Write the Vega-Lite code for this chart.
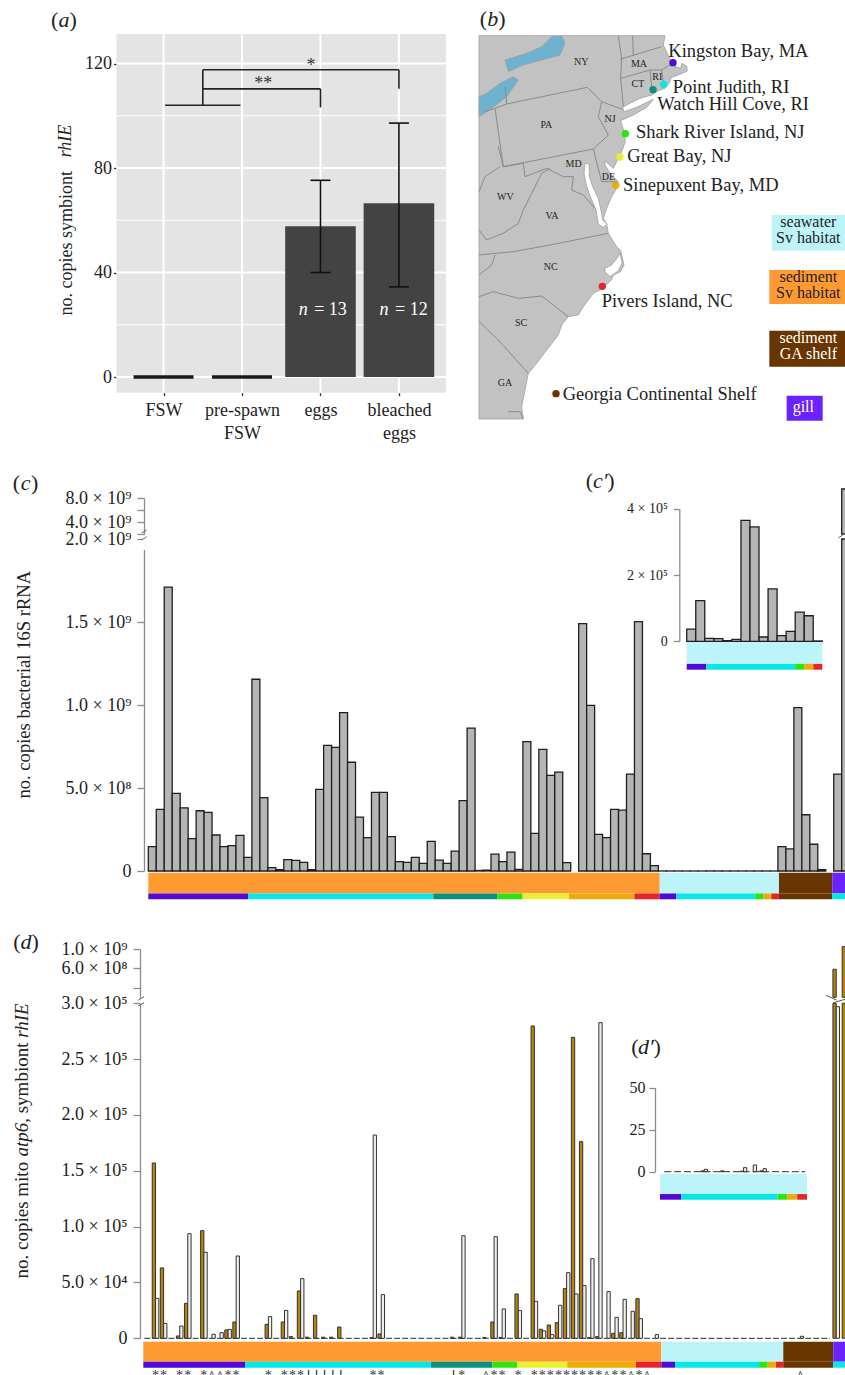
{"$schema":"https://vega.github.io/schema/vega-lite/v6.json","width":845,"height":1375,"autosize":"none","padding":0,"background":"white",
"config":{"font":"Liberation Serif","view":{"stroke":null},"text":{"font":"Liberation Serif"},"axis":{"grid":false,"labelFont":"Liberation Serif","titleFont":"Liberation Serif","titleFontWeight":"normal","labelOverlap":false,"labelBound":false,"labelFlush":false,"labelColor":"#222222","titleColor":"#222222","domainColor":"#8c8c8c","tickColor":"#8c8c8c","domainWidth":1.3,"tickWidth":1.3,"labelFontSize":18,"titleFontSize":18}},
"datasets":{
"aBars":[{"x":1,"y":0},{"x":2,"y":0},{"x":3,"y":57.7},{"x":4,"y":66.5}],
"aErr":[{"x":3,"y":40,"y2":75.3},{"x":4,"y":34.5,"y2":97.2}],
"aCap":[{"x":3,"y":40},{"x":3,"y":75.3},{"x":4,"y":34.5},{"x":4,"y":97.2}],
"aBg":[{"x":0.4,"x2":4.6,"y":-6,"y2":131.3}],
"aGrid":[{"x":0.4,"x2":4.6,"y":0,"y2":0,"w":"major"},{"x":0.4,"x2":4.6,"y":40,"y2":40,"w":"major"},{"x":0.4,"x2":4.6,"y":80,"y2":80,"w":"major"},{"x":0.4,"x2":4.6,"y":120,"y2":120,"w":"major"},{"x":0.4,"x2":4.6,"y":20,"y2":20,"w":"minor"},{"x":0.4,"x2":4.6,"y":60,"y2":60,"w":"minor"},{"x":0.4,"x2":4.6,"y":100,"y2":100,"w":"minor"},{"x":1,"x2":1,"y":-6,"y2":131.3,"w":"major"},{"x":2,"x2":2,"y":-6,"y2":131.3,"w":"major"},{"x":3,"x2":3,"y":-6,"y2":131.3,"w":"major"},{"x":4,"x2":4,"y":-6,"y2":131.3,"w":"major"}],
"aBr":[{"x":1.02,"x2":1.98,"y":104,"y2":104},{"x":1.5,"x2":1.5,"y":104,"y2":117.6},{"x":1.5,"x2":3,"y":110.3,"y2":110.3},{"x":3,"x2":3,"y":110.3,"y2":103.2},{"x":1.5,"x2":4,"y":117.6,"y2":117.6},{"x":4,"x2":4,"y":117.6,"y2":110.3}],
"aStars":[{"x":2.27,"y":112,"label":"**"},{"x":2.88,"y":119,"label":"*"}],
"aNr":[{"x":2.92,"y":25.5,"label":"= 13"},{"x":3.95,"y":25.5,"label":"= 12"}],
"aNi":[{"x":2.78,"y":25.5,"label":"n"},{"x":3.81,"y":25.5,"label":"n"}],
"aPr":[{"x":-0.387,"y":136.7,"label":"("},{"x":-0.153,"y":136.7,"label":")"}],
"aPi":[{"x":-0.27,"y":136.7,"label":"a"}],
"aTi":[{"x":-0.242,"y":84.1,"label":"rhIE"}],
"poly":[
{"p":"land","s":"land","x":27,"y":107},{"p":"land","s":"land","x":585,"y":107},{"p":"land","s":"land","x":580,"y":135},{"p":"land","s":"land","x":592,"y":160},{"p":"land","s":"land","x":600,"y":178},{"p":"land","s":"land","x":612,"y":198},{"p":"land","s":"land","x":632,"y":205},{"p":"land","s":"land","x":635,"y":190},{"p":"land","s":"land","x":650,"y":198},{"p":"land","s":"land","x":652,"y":213},{"p":"land","s":"land","x":625,"y":225},{"p":"land","s":"land","x":605,"y":232},{"p":"land","s":"land","x":597,"y":250},{"p":"land","s":"land","x":585,"y":265},{"p":"land","s":"land","x":565,"y":272},{"p":"land","s":"land","x":545,"y":285},{"p":"land","s":"land","x":510,"y":295},{"p":"land","s":"land","x":480,"y":310},{"p":"land","s":"land","x":458,"y":322},{"p":"land","s":"land","x":462,"y":335},{"p":"land","s":"land","x":500,"y":322},{"p":"land","s":"land","x":550,"y":298},{"p":"land","s":"land","x":530,"y":322},{"p":"land","s":"land","x":490,"y":345},{"p":"land","s":"land","x":452,"y":362},{"p":"land","s":"land","x":462,"y":395},{"p":"land","s":"land","x":466,"y":425},{"p":"land","s":"land","x":455,"y":455},{"p":"land","s":"land","x":440,"y":485},{"p":"land","s":"land","x":430,"y":505},{"p":"land","s":"land","x":418,"y":495},{"p":"land","s":"land","x":405,"y":482},{"p":"land","s":"land","x":405,"y":495},{"p":"land","s":"land","x":420,"y":520},{"p":"land","s":"land","x":445,"y":545},{"p":"land","s":"land","x":440,"y":565},{"p":"land","s":"land","x":425,"y":590},{"p":"land","s":"land","x":410,"y":625},{"p":"land","s":"land","x":400,"y":655},{"p":"land","s":"land","x":410,"y":672},{"p":"land","s":"land","x":415,"y":700},{"p":"land","s":"land","x":440,"y":740},{"p":"land","s":"land","x":452,"y":752},{"p":"land","s":"land","x":462,"y":795},{"p":"land","s":"land","x":452,"y":815},{"p":"land","s":"land","x":430,"y":825},{"p":"land","s":"land","x":425,"y":838},{"p":"land","s":"land","x":400,"y":865},{"p":"land","s":"land","x":370,"y":880},{"p":"land","s":"land","x":340,"y":920},{"p":"land","s":"land","x":325,"y":945},{"p":"land","s":"land","x":295,"y":950},{"p":"land","s":"land","x":275,"y":975},{"p":"land","s":"land","x":265,"y":1005},{"p":"land","s":"land","x":230,"y":1050},{"p":"land","s":"land","x":200,"y":1090},{"p":"land","s":"land","x":175,"y":1120},{"p":"land","s":"land","x":165,"y":1170},{"p":"land","s":"land","x":155,"y":1220},{"p":"land","s":"land","x":160,"y":1257},{"p":"land","s":"land","x":27,"y":1257},{"p":"land","s":"land","x":27,"y":107},
{"p":"ontario","s":"water","x":105,"y":180},{"p":"ontario","s":"water","x":115,"y":215},{"p":"ontario","s":"water","x":160,"y":195},{"p":"ontario","s":"water","x":215,"y":180},{"p":"ontario","s":"water","x":270,"y":165},{"p":"ontario","s":"water","x":285,"y":130},{"p":"ontario","s":"water","x":275,"y":108},{"p":"ontario","s":"water","x":245,"y":110},{"p":"ontario","s":"water","x":215,"y":140},{"p":"ontario","s":"water","x":170,"y":160},{"p":"ontario","s":"water","x":105,"y":180},
{"p":"erie","s":"water","x":27,"y":290},{"p":"erie","s":"water","x":27,"y":350},{"p":"erie","s":"water","x":65,"y":325},{"p":"erie","s":"water","x":110,"y":290},{"p":"erie","s":"water","x":145,"y":240},{"p":"erie","s":"water","x":130,"y":230},{"p":"erie","s":"water","x":90,"y":250},{"p":"erie","s":"water","x":50,"y":280},{"p":"erie","s":"water","x":27,"y":290},
{"p":"chesapeake","s":"bay","x":345,"y":490},{"p":"chesapeake","s":"bay","x":358,"y":492},{"p":"chesapeake","s":"bay","x":358,"y":530},{"p":"chesapeake","s":"bay","x":368,"y":560},{"p":"chesapeake","s":"bay","x":385,"y":595},{"p":"chesapeake","s":"bay","x":395,"y":640},{"p":"chesapeake","s":"bay","x":398,"y":660},{"p":"chesapeake","s":"bay","x":412,"y":672},{"p":"chesapeake","s":"bay","x":400,"y":682},{"p":"chesapeake","s":"bay","x":385,"y":672},{"p":"chesapeake","s":"bay","x":378,"y":630},{"p":"chesapeake","s":"bay","x":365,"y":600},{"p":"chesapeake","s":"bay","x":350,"y":560},{"p":"chesapeake","s":"bay","x":342,"y":520},{"p":"chesapeake","s":"bay","x":345,"y":490},
{"p":"pamlico","s":"bay","x":405,"y":805},{"p":"pamlico","s":"bay","x":425,"y":795},{"p":"pamlico","s":"bay","x":445,"y":770},{"p":"pamlico","s":"bay","x":450,"y":757},{"p":"pamlico","s":"bay","x":456,"y":790},{"p":"pamlico","s":"bay","x":445,"y":812},{"p":"pamlico","s":"bay","x":420,"y":830},{"p":"pamlico","s":"bay","x":405,"y":815},{"p":"pamlico","s":"bay","x":405,"y":805}],
"lines":[
{"s":"a","x":110,"y":312},{"s":"a","x":352,"y":262},{"s":"a","x":385,"y":295},{"s":"a","x":395,"y":305},{"s":"a","x":458,"y":328},
{"s":"b","x":75,"y":325},{"s":"b","x":110,"y":312},{"s":"b","x":105,"y":260},
{"s":"c","x":75,"y":325},{"s":"c","x":100,"y":500},{"s":"c","x":370,"y":447},{"s":"c","x":415,"y":405},{"s":"c","x":385,"y":350},{"s":"c","x":395,"y":305},
{"s":"d","x":445,"y":107},{"s":"d","x":455,"y":175},{"s":"d","x":452,"y":235},{"s":"d","x":460,"y":320},
{"s":"e","x":452,"y":235},{"s":"e","x":540,"y":210},{"s":"e","x":575,"y":210},{"s":"e","x":600,"y":195},
{"s":"f","x":450,"y":178},{"s":"f","x":575,"y":140},
{"s":"g","x":488,"y":107},{"s":"g","x":490,"y":165},
{"s":"h","x":540,"y":212},{"s":"h","x":545,"y":260},
{"s":"i","x":575,"y":210},{"s":"i","x":580,"y":250},
{"s":"j","x":45,"y":335},{"s":"j","x":75,"y":325},
{"s":"l","x":100,"y":500},{"s":"l","x":85,"y":440},
{"s":"m","x":100,"y":500},{"s":"m","x":160,"y":490},{"s":"m","x":165,"y":530},{"s":"m","x":230,"y":505},{"s":"m","x":280,"y":530},{"s":"m","x":310,"y":530},{"s":"m","x":305,"y":570},{"s":"m","x":340,"y":585},{"s":"m","x":375,"y":625},
{"s":"n","x":27,"y":575},{"s":"n","x":45,"y":530},{"s":"n","x":90,"y":500},
{"s":"o","x":27,"y":690},{"s":"o","x":50,"y":720},{"s":"o","x":100,"y":700},{"s":"o","x":145,"y":670},{"s":"o","x":160,"y":630},{"s":"o","x":180,"y":590},{"s":"o","x":215,"y":520},{"s":"o","x":240,"y":505},
{"s":"p","x":370,"y":447},{"s":"p","x":395,"y":545},{"s":"p","x":440,"y":545},
{"s":"q","x":27,"y":765},{"s":"q","x":130,"y":755},{"s":"q","x":240,"y":735},{"s":"q","x":415,"y":700},
{"s":"r","x":27,"y":825},{"s":"r","x":65,"y":795},{"s":"r","x":75,"y":765},
{"s":"t","x":27,"y":890},{"s":"t","x":70,"y":875},{"s":"t","x":145,"y":895},{"s":"t","x":215,"y":888},{"s":"t","x":295,"y":950},
{"s":"u","x":27,"y":965},{"s":"u","x":80,"y":1015},{"s":"u","x":130,"y":1070},{"s":"u","x":175,"y":1120},
{"s":"v","x":115,"y":1235},{"s":"v","x":150,"y":1235},{"s":"v","x":160,"y":1257}],
"states":[{"x":334,"y":185,"label":"NY"},{"x":507,"y":193,"label":"MA"},{"x":562,"y":231,"label":"RI"},{"x":504,"y":253,"label":"CT"},{"x":229,"y":376,"label":"PA"},{"x":420,"y":358,"label":"NJ"},{"x":311,"y":493,"label":"MD"},{"x":415,"y":530,"label":"DE"},{"x":106,"y":592,"label":"WV"},{"x":246,"y":647,"label":"VA"},{"x":242,"y":802,"label":"NC"},{"x":153,"y":968,"label":"SC"},{"x":105,"y":1150,"label":"GA"}],
"sites":[{"x":609,"y":188,"group":"Kingston Bay, MA","tx":595,"ty":152},{"x":581,"y":253,"group":"Point Judith, RI","tx":608,"ty":262},{"x":549,"y":269,"group":"Watch Hill Cove, RI","tx":562,"ty":312},{"x":466,"y":401,"group":"Shark River Island, NJ","tx":498,"ty":397},{"x":450,"y":471,"group":"Great Bay, NJ","tx":472,"ty":468},{"x":437,"y":556,"group":"Sinepuxent Bay, MD","tx":459,"ty":555},{"x":397,"y":859,"group":"Pivers Island, NC","tx":395,"ty":902},{"x":258,"y":1181,"group":"Georgia Continental Shelf","tx":278,"ty":1181}],
"legBox":[{"x":905,"x2":1125,"y":645,"y2":752,"group":"seawater Sv habitat"},{"x":898,"x2":1125,"y":810,"y2":912,"group":"sediment Sv habitat"},{"x":898,"x2":1125,"y":992,"y2":1100,"group":"sediment GA shelf"},{"x":950,"x2":1058,"y":1187,"y2":1262,"group":"gill"}],
"legDark":[{"x":1015,"y":666,"label":"seawater"},{"x":1015,"y":713,"label":"Sv habitat"},{"x":1015,"y":832,"label":"sediment"},{"x":1015,"y":878,"label":"Sv habitat"}],
"legLight":[{"x":1015,"y":1015,"label":"sediment"},{"x":1015,"y":1062,"label":"GA shelf"},{"x":1000,"y":1222,"label":"gill"}],
"bPr":[{"x":40,"y":58,"label":"("},{"x":96,"y":58,"label":")"}],
"bPi":[{"x":68,"y":58,"label":"b"}],
"cBars":[{"i":0,"v":147000000},{"i":1,"v":371000000},{"i":2,"v":1710000000},{"i":3,"v":468000000},{"i":4,"v":380000000},{"i":5,"v":195000000},{"i":6,"v":363000000},{"i":7,"v":353000000},{"i":8,"v":217000000},{"i":9,"v":147000000},{"i":10,"v":153000000},{"i":11,"v":215000000},{"i":12,"v":82000000},{"i":13,"v":1155000000},{"i":14,"v":442000000},{"i":15,"v":20000000},{"i":16,"v":8000000},{"i":17,"v":68000000},{"i":18,"v":64000000},{"i":19,"v":52000000},{"i":20,"v":8000000},{"i":21,"v":492000000},{"i":22,"v":757000000},{"i":23,"v":745000000},{"i":24,"v":954000000},{"i":25,"v":655000000},{"i":26,"v":325000000},{"i":27,"v":201000000},{"i":28,"v":474000000},{"i":29,"v":474000000},{"i":30,"v":207000000},{"i":31,"v":56000000},{"i":32,"v":52000000},{"i":33,"v":82000000},{"i":34,"v":46000000},{"i":35,"v":179000000},{"i":36,"v":66000000},{"i":37,"v":46000000},{"i":38,"v":120000000},{"i":39,"v":424000000},{"i":40,"v":861000000},{"i":41,"v":3000000},{"i":42,"v":5000000},{"i":43,"v":102000000},{"i":44,"v":56000000},{"i":45,"v":114000000},{"i":46,"v":10000000},{"i":47,"v":779000000},{"i":48,"v":227000000},{"i":49,"v":733000000},{"i":50,"v":576000000},{"i":51,"v":596000000},{"i":52,"v":50000000},{"i":54,"v":1490000000},{"i":55,"v":998000000},{"i":56,"v":221000000},{"i":57,"v":201000000},{"i":58,"v":371000000},{"i":59,"v":367000000},{"i":60,"v":584000000},{"i":61,"v":1502000000},{"i":62,"v":104000000},{"i":63,"v":32000000},{"i":64,"v":37000},{"i":65,"v":123000},{"i":66,"v":9000},{"i":67,"v":8000},{"i":68,"v":2000},{"i":69,"v":6000},{"i":70,"v":365000},{"i":71,"v":345000},{"i":72,"v":13000},{"i":73,"v":158000},{"i":74,"v":17000},{"i":75,"v":30000},{"i":76,"v":88000},{"i":77,"v":77000},{"i":78,"v":1000},{"i":79,"v":147000000},{"i":80,"v":133000000},{"i":81,"v":984000000},{"i":82,"v":339000000},{"i":83,"v":161000000},{"i":84,"v":8000000},{"i":86,"v":584000000},{"i":87,"v":9500000000}],
"cMask":[{"i":-1.04,"v":-670000000,"v2":1170000000}],
"cSlash":[{"i":-1.33,"i2":-0.7,"v":2170000000,"v2":2670000000},{"i":-1.33,"i2":-0.7,"v":1000000000,"v2":1550000000},{"i":86.07,"i2":87,"v":1330000000,"v2":2170000000}],
"cPr":[{"i":-17.05,"v":10450000000,"label":"("},{"i":-14.75,"v":10450000000,"label":")"},{"i":54.86,"v":10900000000,"label":"("},{"i":57.54,"v":10900000000,"label":")"}],
"cPi":[{"i":-15.9,"v":10450000000,"label":"c"},{"i":56.2,"v":10900000000,"label":"c\u2032"}],
"cStrip":[{"from":-0.5,"to":63.67,"group":"sediment Sv habitat","track":"habitat"},{"from":63.67,"to":78.63,"group":"seawater Sv habitat","track":"habitat"},{"from":78.63,"to":85.32,"group":"sediment GA shelf","track":"habitat"},{"from":85.32,"to":88,"group":"gill","track":"habitat"},{"from":-0.5,"to":12.05,"group":"Kingston Bay, MA","track":"site"},{"from":12.05,"to":35.26,"group":"Point Judith, RI","track":"site"},{"from":35.26,"to":43.29,"group":"Watch Hill Cove, RI","track":"site"},{"from":43.29,"to":46.47,"group":"Shark River Island, NJ","track":"site"},{"from":46.47,"to":52.29,"group":"Great Bay, NJ","track":"site"},{"from":52.29,"to":60.48,"group":"Sinepuxent Bay, MD","track":"site"},{"from":60.48,"to":63.67,"group":"Pivers Island, NC","track":"site"},{"from":63.67,"to":65.75,"group":"Kingston Bay, MA","track":"site"},{"from":65.75,"to":75.66,"group":"Point Judith, RI","track":"site"},{"from":75.66,"to":76.7,"group":"Shark River Island, NJ","track":"site"},{"from":76.7,"to":77.67,"group":"Sinepuxent Bay, MD","track":"site"},{"from":77.67,"to":78.63,"group":"Pivers Island, NC","track":"site"},{"from":78.63,"to":85.32,"group":"Georgia Continental Shelf","track":"site"},{"from":85.32,"to":88,"group":"Point Judith, RI","track":"site"}],
"cInset":[{"i":0,"v":37000},{"i":1,"v":123000},{"i":2,"v":9000},{"i":3,"v":8000},{"i":4,"v":2000},{"i":5,"v":6000},{"i":6,"v":365000},{"i":7,"v":345000},{"i":8,"v":13000},{"i":9,"v":158000},{"i":10,"v":17000},{"i":11,"v":30000},{"i":12,"v":88000},{"i":13,"v":77000},{"i":14,"v":1000}],
"insetStrip":[{"from":-0.5,"to":14.5,"group":"seawater Sv habitat","track":"habitat"},{"from":-0.5,"to":1.67,"group":"Kingston Bay, MA","track":"site"},{"from":1.67,"to":11.5,"group":"Point Judith, RI","track":"site"},{"from":11.5,"to":12.5,"group":"Shark River Island, NJ","track":"site"},{"from":12.5,"to":13.5,"group":"Sinepuxent Bay, MD","track":"site"},{"from":13.5,"to":14.5,"group":"Pivers Island, NC","track":"site"}],
"dMito":[{"i":1,"v":157000},{"i":2,"v":63000},{"i":4,"v":2100},{"i":5,"v":31300},{"i":7,"v":96400},{"i":10,"v":7500},{"i":11,"v":14600},{"i":15,"v":12500},{"i":17,"v":14600},{"i":18,"v":1500},{"i":19,"v":42400},{"i":20,"v":1000},{"i":21,"v":20600},{"i":22,"v":1000},{"i":23,"v":1000},{"i":24,"v":10100},{"i":28,"v":600},{"i":29,"v":3900},{"i":38,"v":1000},{"i":39,"v":1000},{"i":42,"v":600},{"i":43,"v":14600},{"i":44,"v":600},{"i":46,"v":39700},{"i":48,"v":279700},{"i":49,"v":8100},{"i":50,"v":11900},{"i":51,"v":14000},{"i":52,"v":44500},{"i":53,"v":269500},{"i":54,"v":176100},{"i":55,"v":600},{"i":56,"v":1500},{"i":58,"v":4500},{"i":59,"v":5000},{"i":61,"v":35500},{"i":85.45,"v":580000000},{"i":86.6,"v":1048000000}],
"dSym":[{"i":1,"v":35800},{"i":2,"v":13400},{"i":4,"v":11000},{"i":5,"v":93700},{"i":7,"v":77000},{"i":8,"v":3600},{"i":9,"v":5000},{"i":10,"v":8000},{"i":11,"v":73700},{"i":15,"v":19400},{"i":17,"v":25000},{"i":19,"v":53400},{"i":28,"v":182000},{"i":29,"v":39100},{"i":39,"v":91900},{"i":43,"v":91000},{"i":44,"v":26300},{"i":46,"v":24800},{"i":48,"v":33100},{"i":49,"v":6600},{"i":50,"v":3300},{"i":51,"v":29600},{"i":52,"v":58800},{"i":53,"v":39700},{"i":54,"v":47200},{"i":55,"v":71300},{"i":56,"v":282700},{"i":57,"v":41800},{"i":58,"v":18800},{"i":59,"v":34900},{"i":60,"v":24200},{"i":61,"v":17600},{"i":63,"v":3300},{"i":81,"v":1800},{"i":85.45,"v":297000}],
"dBase":[{"i":-0.38,"i2":84.7,"v":0}],
"dTr":[{"i":-15.59,"v":193000,"label":", symbiont"}],
"dTi":[{"i":-15.59,"v":162700,"label":"atp6"},{"i":-15.59,"v":269100,"label":"rhIE"}],
"dSlash":[{"i":-1.12,"i2":-0.41,"v":-56000000,"v2":12000000},{"i":-1.12,"i2":-0.41,"v":-180000000,"v2":-112000000},{"i":84.2,"i2":85.5,"v":41000000,"v2":-56000000},{"i":85.1,"i2":86.56,"v":-112000000,"v2":-41000000}],
"dPr":[{"i":-16.19,"v":1150000000,"label":"("},{"i":-13.91,"v":1150000000,"label":")"}],
"dPi":[{"i":-15.05,"v":1150000000,"label":"d"}],
"dStrip":[{"from":-0.5,"to":63.77,"group":"sediment Sv habitat","track":"habitat"},{"from":63.77,"to":78.9,"group":"seawater Sv habitat","track":"habitat"},{"from":78.9,"to":85.1,"group":"sediment GA shelf","track":"habitat"},{"from":85.1,"to":88,"group":"gill","track":"habitat"},{"from":-0.5,"to":12.12,"group":"Kingston Bay, MA","track":"site"},{"from":12.12,"to":35.2,"group":"Point Judith, RI","track":"site"},{"from":35.2,"to":42.8,"group":"Watch Hill Cove, RI","track":"site"},{"from":42.8,"to":45.9,"group":"Shark River Island, NJ","track":"site"},{"from":45.9,"to":52.1,"group":"Great Bay, NJ","track":"site"},{"from":52.1,"to":60.6,"group":"Sinepuxent Bay, MD","track":"site"},{"from":60.6,"to":63.77,"group":"Pivers Island, NC","track":"site"},{"from":63.77,"to":65.47,"group":"Kingston Bay, MA","track":"site"},{"from":65.47,"to":75.9,"group":"Point Judith, RI","track":"site"},{"from":75.9,"to":76.97,"group":"Shark River Island, NJ","track":"site"},{"from":76.97,"to":78,"group":"Sinepuxent Bay, MD","track":"site"},{"from":78,"to":78.9,"group":"Pivers Island, NC","track":"site"},{"from":78.9,"to":85.1,"group":"Georgia Continental Shelf","track":"site"},{"from":85.1,"to":88,"group":"Point Judith, RI","track":"site"}],
"sig":[{"i":1,"s":"*"},{"i":2,"s":"*"},{"i":4,"s":"*"},{"i":5,"s":"*"},{"i":7,"s":"*"},{"i":8,"s":"^"},{"i":9,"s":"^"},{"i":10,"s":"*"},{"i":11,"s":"*"},{"i":15,"s":"*"},{"i":17,"s":"*"},{"i":18,"s":"*"},{"i":19,"s":"*"},{"i":20,"s":"|"},{"i":21,"s":"|"},{"i":22,"s":"|"},{"i":23,"s":"|"},{"i":24,"s":"|"},{"i":28,"s":"*"},{"i":29,"s":"*"},{"i":38,"s":"|"},{"i":39,"s":"*"},{"i":42,"s":"^"},{"i":43,"s":"*"},{"i":44,"s":"*"},{"i":46,"s":"*"},{"i":48,"s":"*"},{"i":49,"s":"*"},{"i":50,"s":"*"},{"i":51,"s":"*"},{"i":52,"s":"*"},{"i":53,"s":"*"},{"i":54,"s":"*"},{"i":55,"s":"*"},{"i":56,"s":"*"},{"i":57,"s":"^"},{"i":58,"s":"*"},{"i":59,"s":"*"},{"i":60,"s":"^"},{"i":61,"s":"*"},{"i":62,"s":"^"},{"i":81,"s":"^"}],
"dInsetM":[{"i":4,"v":0.5},{"i":6,"v":0.5},{"i":8,"v":0.3},{"i":10,"v":0.5}],
"dInsetS":[{"i":4,"v":1.4},{"i":8,"v":2.4},{"i":9,"v":4},{"i":10,"v":1.8}],
"dInsetBase":[{"i":-0.06,"i2":14.3,"v":0}],
"dPPr":[{"i":-3.07,"v":74,"label":"("},{"i":-0.79,"v":74,"label":")"}],
"dPPi":[{"i":-1.93,"v":74,"label":"d\u2032"}]
},
"layer":[
{"encoding":{"x":{"field":"x","type":"quantitative","scale":{"domain":[0.4,4.6],"range":[116.5,446],"nice":false,"zero":false,"padding":0},"axis":{"orient":"bottom","offset":-982.3,"values":[1,2,3,4],"title":null,"domain":false,"tickSize":3,"tickColor":"#333333","labelPadding":6,"labelLineHeight":23,"labelExpr":"datum.value==1?'FSW':datum.value==2?['pre-spawn','FSW']:datum.value==3?'eggs':['bleached','eggs']"}},"y":{"field":"y","type":"quantitative","scale":{"domain":[-6,131.3],"range":[392.7,34],"nice":false,"zero":false,"padding":0},"axis":{"orient":"left","offset":-116.5,"values":[0,40,80,120],"domain":false,"tickSize":3,"tickColor":"#333333","labelPadding":2,"title":"no. copies symbiont","titleAngle":270,"titleAlign":"left","titleBaseline":"middle","titleX":-50.5,"titleY":315}}},
"layer":[
{"data":{"name":"aBg"},"mark":{"type":"rect","fill":"#e4e4e4"},"encoding":{"x2":{"field":"x2"},"y2":{"field":"y2"}}},
{"data":{"name":"aGrid"},"mark":{"type":"rule","stroke":"white"},"encoding":{"x2":{"field":"x2"},"y2":{"field":"y2"},"strokeWidth":{"field":"w","type":"nominal","scale":{"domain":["major","minor"],"range":[2,1]},"legend":null}}},
{"data":{"name":"aBars"},"transform":[{"filter":"datum.y>0"}],"mark":{"type":"bar","orient":"vertical","width":70.6,"fill":"#434343"},"encoding":{"y2":{"datum":0}}},
{"data":{"name":"aBars"},"transform":[{"filter":"datum.y==0"}],"mark":{"type":"tick","orient":"horizontal","size":60,"thickness":3.5,"color":"#1a1a1a","opacity":1}},
{"data":{"name":"aErr"},"mark":{"type":"rule","stroke":"#111111","strokeWidth":1.6},"encoding":{"y2":{"field":"y2"}}},
{"data":{"name":"aCap"},"mark":{"type":"tick","orient":"horizontal","size":20,"thickness":1.6,"color":"#111111","opacity":1}},
{"data":{"name":"aBr"},"mark":{"type":"rule","stroke":"#222222","strokeWidth":1.6},"encoding":{"x2":{"field":"x2"},"y2":{"field":"y2"}}},
{"data":{"name":"aStars"},"mark":{"type":"text","fontSize":18,"color":"#333333"},"encoding":{"text":{"field":"label"}}},
{"data":{"name":"aNr"},"mark":{"type":"text","fontSize":18,"color":"white","align":"left"},"encoding":{"text":{"field":"label"}}},
{"data":{"name":"aNi"},"mark":{"type":"text","fontSize":18,"color":"white","fontStyle":"italic"},"encoding":{"text":{"field":"label"}}},
{"data":{"name":"aPr"},"mark":{"type":"text","fontSize":22,"color":"#222222"},"encoding":{"text":{"field":"label"}}},
{"data":{"name":"aPi"},"mark":{"type":"text","fontSize":22,"color":"#222222","fontStyle":"italic"},"encoding":{"text":{"field":"label"}}},
{"data":{"name":"aTi"},"mark":{"type":"text","fontSize":18,"color":"#222222","fontStyle":"italic","angle":270,"align":"left"},"encoding":{"text":{"field":"label"}}}
]},
{"encoding":{"x":{"field":"x","type":"quantitative","scale":{"domain":[0,1125],"range":[470,845],"nice":false,"zero":false},"axis":null},"y":{"field":"y","type":"quantitative","scale":{"domain":[0,1305],"range":[0,435],"nice":false,"zero":false},"axis":null}},
"layer":[
{"data":{"name":"poly"},"mark":{"type":"line","stroke":"#a0a0a0","strokeWidth":0.8},"encoding":{"order":{"value":null},"detail":{"field":"p"},"fill":{"field":"s","type":"nominal","scale":{"domain":["land","water","bay"],"range":["#c2c2c2","#6db3cf","#ffffff"]},"legend":null}}},
{"data":{"name":"lines"},"mark":{"type":"line","stroke":"#8a8a8a","strokeWidth":1},"encoding":{"order":{"value":null},"detail":{"field":"s"}}},
{"data":{"name":"states"},"mark":{"type":"text","fontSize":10,"color":"#222222"},"encoding":{"text":{"field":"label"}}},
{"data":{"name":"sites"},"mark":{"type":"circle","size":55,"opacity":1},"encoding":{"color":{"field":"group","type":"nominal","legend":null,"scale":{"domain":["Kingston Bay, MA","Point Judith, RI","Watch Hill Cove, RI","Shark River Island, NJ","Great Bay, NJ","Sinepuxent Bay, MD","Pivers Island, NC","Georgia Continental Shelf","seawater Sv habitat","sediment Sv habitat","sediment GA shelf","gill"],"range":["#5209d8","#06e8e8","#0a8f80","#2de40e","#e8f030","#ecab06","#e5242b","#693500","#bdf4fa","#ff9a33","#693500","#6a22ff"]}}}},
{"data":{"name":"sites"},"mark":{"type":"text","fontSize":18.5,"align":"left","color":"#222222"},"encoding":{"x":{"field":"tx","type":"quantitative","axis":null},"y":{"field":"ty","type":"quantitative","axis":null},"text":{"field":"group"}}},
{"data":{"name":"legBox"},"mark":{"type":"rect"},"encoding":{"x2":{"field":"x2"},"y2":{"field":"y2"},"color":{"field":"group","type":"nominal","legend":null}}},
{"data":{"name":"legDark"},"mark":{"type":"text","fontSize":16,"color":"#222222"},"encoding":{"text":{"field":"label"}}},
{"data":{"name":"legLight"},"mark":{"type":"text","fontSize":16,"color":"#ffffff"},"encoding":{"text":{"field":"label"}}},
{"data":{"name":"bPr"},"mark":{"type":"text","fontSize":22,"color":"#222222"},"encoding":{"text":{"field":"label"}}},
{"data":{"name":"bPi"},"mark":{"type":"text","fontSize":22,"color":"#222222","fontStyle":"italic"},"encoding":{"text":{"field":"label"}}}
]},
{"data":{"name":"cBars"},"mark":{"type":"bar","orient":"vertical","width":7.97,"fill":"#b5b5b5","stroke":"#1f1f1f","strokeWidth":1.3},"encoding":{"x":{"field":"i","type":"quantitative","scale":{"domain":[-0.5,87.5],"range":[148.3,849.66],"nice":false,"zero":false,"padding":0},"axis":null},"y":{"field":"v","type":"quantitative","scale":{"domain":[0,2000000000],"range":[871,539],"nice":false,"clamp":true},"axis":{"orient":"left","offset":-144,"values":[0,500000000,1000000000,1500000000,2000000000],"tickSize":7,"labelPadding":6,"labelExpr":"datum.value==0?'0':datum.value==500000000?'5.0 × 10⁸':format(datum.value/1000000000,'.1f')+' × 10⁹'","title":"no. copies bacterial 16S rRNA","titleAngle":270,"titleAlign":"center","titleBaseline":"middle","titleX":-121,"titleY":684.2,"titleFontSize":18.6}}}},
{"encoding":{"x":{"field":"i","type":"quantitative","scale":{"domain":[-0.5,87.5],"range":[148.3,849.66],"nice":false,"zero":false,"padding":0},"axis":null},"y":{"field":"v","type":"quantitative","scale":{"domain":[2000000000,8000000000],"range":[534,498],"nice":false,"zero":false},"axis":{"orient":"left","offset":-144,"values":[2000000000,4000000000,6000000000,8000000000],"title":null,"tickSize":7,"labelPadding":6,"labelExpr":"datum.value==8000000000?'8.0 × 10⁹':datum.value==4000000000?'4.0 × 10⁹':''"}}},
"layer":[
{"data":{"name":"cBars"},"transform":[{"filter":"datum.v>2000000000"}],"mark":{"type":"bar","orient":"vertical","width":7.97,"fill":"#b5b5b5","stroke":"#1f1f1f","strokeWidth":1.3},"encoding":{"y2":{"datum":2000000000}}},
{"data":{"name":"cMask"},"mark":{"type":"rule","stroke":"white","strokeWidth":3},"encoding":{"y2":{"field":"v2"}}},
{"data":{"name":"cSlash"},"mark":{"type":"rule","stroke":"#666666","strokeWidth":1},"encoding":{"x2":{"field":"i2"},"y2":{"field":"v2"}}},
{"data":{"name":"cPr"},"mark":{"type":"text","fontSize":22,"color":"#222222"},"encoding":{"text":{"field":"label"}}},
{"data":{"name":"cPi"},"mark":{"type":"text","fontSize":22,"color":"#222222","fontStyle":"italic"},"encoding":{"text":{"field":"label"}}}
]},
{"data":{"name":"cStrip"},"encoding":{"x":{"field":"from","type":"quantitative","scale":{"domain":[-0.5,87.5],"range":[148.3,849.66],"nice":false,"zero":false},"axis":null},"x2":{"field":"to"},"y":{"datum":0,"type":"quantitative","scale":{"domain":[0,1],"range":[872.7,899.3],"nice":false},"axis":null},"color":{"field":"group","type":"nominal","legend":null,"scale":{"domain":["Kingston Bay, MA","Point Judith, RI","Watch Hill Cove, RI","Shark River Island, NJ","Great Bay, NJ","Sinepuxent Bay, MD","Pivers Island, NC","Georgia Continental Shelf","seawater Sv habitat","sediment Sv habitat","sediment GA shelf","gill"],"range":["#5209d8","#06e8e8","#0a8f80","#2de40e","#e8f030","#ecab06","#e5242b","#693500","#bdf4fa","#ff9a33","#693500","#6a22ff"]}}},
"layer":[
{"transform":[{"filter":"datum.track=='habitat'"}],"mark":"rect","encoding":{"y2":{"datum":0.78}}},
{"transform":[{"filter":"datum.track=='site'"}],"mark":"rect","encoding":{"y":{"datum":0.78,"type":"quantitative","axis":null},"y2":{"datum":1}}}
]},
{"data":{"name":"cInset"},"mark":{"type":"bar","orient":"vertical","width":9,"fill":"#b5b5b5","stroke":"#1f1f1f","strokeWidth":1.3},"encoding":{"x":{"field":"i","type":"quantitative","scale":{"domain":[-0.5,14.5],"range":[686.7,822.3],"nice":false,"zero":false,"padding":0},"axis":null},"y":{"field":"v","type":"quantitative","scale":{"domain":[0,400000],"range":[641.3,508.7],"nice":false},"axis":{"orient":"left","offset":-679.3,"values":[0,200000,400000],"title":null,"tickSize":6,"labelPadding":6,"labelFontSize":14,"labelExpr":"datum.value==0?'0':format(datum.value/100000,'d')+' × 10⁵'"}}}},
{"data":{"name":"insetStrip"},"encoding":{"x":{"field":"from","type":"quantitative","scale":{"domain":[-0.5,14.5],"range":[686.7,822.3],"nice":false,"zero":false},"axis":null},"x2":{"field":"to"},"y":{"datum":0,"type":"quantitative","scale":{"domain":[0,1],"range":[642,669.7],"nice":false},"axis":null},"color":{"field":"group","type":"nominal","legend":null,"scale":{"domain":["Kingston Bay, MA","Point Judith, RI","Watch Hill Cove, RI","Shark River Island, NJ","Great Bay, NJ","Sinepuxent Bay, MD","Pivers Island, NC","Georgia Continental Shelf","seawater Sv habitat","sediment Sv habitat","sediment GA shelf","gill"],"range":["#5209d8","#06e8e8","#0a8f80","#2de40e","#e8f030","#ecab06","#e5242b","#693500","#bdf4fa","#ff9a33","#693500","#6a22ff"]}}},
"layer":[
{"transform":[{"filter":"datum.track=='habitat'"}],"mark":"rect","encoding":{"y2":{"datum":0.79}}},
{"transform":[{"filter":"datum.track=='site'"}],"mark":"rect","encoding":{"y":{"datum":0.79,"type":"quantitative","axis":null},"y2":{"datum":1}}}
]},
{"encoding":{"x":{"field":"i","type":"quantitative","scale":{"domain":[-0.5,87.5],"range":[143.3,852.6],"nice":false,"zero":false,"padding":0},"axis":null},"y":{"field":"v","type":"quantitative","scale":{"domain":[0,300000],"range":[1338.3,1003.3],"nice":false,"clamp":true},"axis":{"orient":"left","offset":-140,"values":[0,50000,100000,150000,200000,250000,300000],"tickSize":7,"labelPadding":6,"labelExpr":"datum.value==0?'0':datum.value==50000?'5.0 × 10⁴':format(datum.value/100000,'.1f')+' × 10⁵'","title":"no. copies mito","titleAngle":270,"titleAlign":"left","titleBaseline":"middle","titleX":-118.3,"titleY":1278,"titleFontSize":19}}},
"layer":[
{"data":{"name":"dBase"},"mark":{"type":"rule","stroke":"#555555","strokeWidth":1.3,"strokeDash":[6,2.06]},"encoding":{"x2":{"field":"i2"}}},
{"data":{"name":"dMito"},"mark":{"type":"bar","orient":"vertical","width":3.3,"xOffset":-1.5,"fill":"#b5830c","stroke":"#333333","strokeWidth":1}},
{"data":{"name":"dSym"},"mark":{"type":"bar","orient":"vertical","width":3.3,"xOffset":1.8,"fill":"#eeeeee","stroke":"#333333","strokeWidth":1}},
{"data":{"name":"dTr"},"mark":{"type":"text","fontSize":19,"color":"#222222","angle":270,"align":"left"},"encoding":{"text":{"field":"label"}}},
{"data":{"name":"dTi"},"mark":{"type":"text","fontSize":19,"color":"#222222","angle":270,"align":"left","fontStyle":"italic"},"encoding":{"text":{"field":"label"}}}
]},
{"encoding":{"x":{"field":"i","type":"quantitative","scale":{"domain":[-0.5,87.5],"range":[143.3,852.6],"nice":false,"zero":false,"padding":0},"axis":null},"y":{"field":"v","type":"quantitative","scale":{"domain":[0,1000000000],"range":[997.3,949],"nice":false},"axis":{"orient":"left","offset":-140,"values":[200000000,600000000,1000000000],"title":null,"tickSize":7,"labelPadding":6,"labelExpr":"datum.value==1000000000?'1.0 × 10⁹':datum.value==600000000?'6.0 × 10⁸':''"}}},
"layer":[
{"data":{"name":"dMito"},"transform":[{"filter":"datum.v>300000"}],"mark":{"type":"bar","orient":"vertical","width":3.3,"xOffset":-1.5,"fill":"#b5830c","stroke":"#333333","strokeWidth":1},"encoding":{"y2":{"datum":0}}},
{"data":{"name":"dSlash"},"mark":{"type":"rule","stroke":"#555555","strokeWidth":1},"encoding":{"x2":{"field":"i2"},"y2":{"field":"v2"}}},
{"data":{"name":"dPr"},"mark":{"type":"text","fontSize":22,"color":"#222222"},"encoding":{"text":{"field":"label"}}},
{"data":{"name":"dPi"},"mark":{"type":"text","fontSize":22,"color":"#222222","fontStyle":"italic"},"encoding":{"text":{"field":"label"}}}
]},
{"encoding":{"x":{"field":"from","type":"quantitative","scale":{"domain":[-0.5,87.5],"range":[143.3,852.6],"nice":false,"zero":false},"axis":null},"x2":{"field":"to"},"y":{"datum":0,"type":"quantitative","scale":{"domain":[0,1],"range":[1341.7,1367.7],"nice":false},"axis":null}},
"layer":[
{"data":{"name":"dStrip"},"transform":[{"filter":"datum.track=='habitat'"}],"mark":"rect","encoding":{"y2":{"datum":0.77},"color":{"field":"group","type":"nominal","legend":null,"scale":{"domain":["Kingston Bay, MA","Point Judith, RI","Watch Hill Cove, RI","Shark River Island, NJ","Great Bay, NJ","Sinepuxent Bay, MD","Pivers Island, NC","Georgia Continental Shelf","seawater Sv habitat","sediment Sv habitat","sediment GA shelf","gill"],"range":["#5209d8","#06e8e8","#0a8f80","#2de40e","#e8f030","#ecab06","#e5242b","#693500","#bdf4fa","#ff9a33","#693500","#6a22ff"]}}}},
{"data":{"name":"dStrip"},"transform":[{"filter":"datum.track=='site'"}],"mark":"rect","encoding":{"y":{"datum":0.77,"type":"quantitative","axis":null},"y2":{"datum":1},"color":{"field":"group","type":"nominal","legend":null}}},
{"data":{"name":"sig"},"transform":[{"filter":"datum.s=='*'"}],"mark":{"type":"text","fontSize":14,"color":"#333333","dy":3},"encoding":{"x":{"field":"i","type":"quantitative","axis":null},"x2":null,"y":{"datum":1.2,"type":"quantitative","axis":null},"text":{"field":"s"}}},
{"data":{"name":"sig"},"transform":[{"filter":"datum.s=='^'"}],"mark":{"type":"text","fontSize":18,"color":"#333333","dy":6},"encoding":{"x":{"field":"i","type":"quantitative","axis":null},"x2":null,"y":{"datum":1.2,"type":"quantitative","axis":null},"text":{"field":"s"}}},
{"data":{"name":"sig"},"transform":[{"filter":"datum.s=='|'"}],"mark":{"type":"text","fontSize":14,"color":"#000000","fontWeight":"bold","dy":3},"encoding":{"x":{"field":"i","type":"quantitative","axis":null},"x2":null,"y":{"datum":1.2,"type":"quantitative","axis":null},"text":{"field":"s"}}}
]},
{"encoding":{"x":{"field":"i","type":"quantitative","scale":{"domain":[-0.5,14.5],"range":[660,807],"nice":false,"zero":false,"padding":0},"axis":null},"y":{"field":"v","type":"quantitative","scale":{"domain":[0,50],"range":[1171.7,1087.7],"nice":false},"axis":{"orient":"left","offset":-655,"values":[0,25,50],"title":null,"tickSize":6,"labelPadding":4,"labelFontSize":16}}},
"layer":[
{"data":{"name":"dInsetBase"},"mark":{"type":"rule","stroke":"#555555","strokeWidth":1.3,"strokeDash":[7,2.8]},"encoding":{"x2":{"field":"i2"}}},
{"data":{"name":"dInsetM"},"mark":{"type":"bar","orient":"vertical","width":3.3,"xOffset":-1.5,"fill":"#b5830c","stroke":"#333333","strokeWidth":1}},
{"data":{"name":"dInsetS"},"mark":{"type":"bar","orient":"vertical","width":3.3,"xOffset":1.8,"fill":"#eeeeee","stroke":"#333333","strokeWidth":1}},
{"data":{"name":"dPPr"},"mark":{"type":"text","fontSize":22,"color":"#222222"},"encoding":{"text":{"field":"label"}}},
{"data":{"name":"dPPi"},"mark":{"type":"text","fontSize":22,"color":"#222222","fontStyle":"italic"},"encoding":{"text":{"field":"label"}}}
]},
{"data":{"name":"insetStrip"},"encoding":{"x":{"field":"from","type":"quantitative","scale":{"domain":[-0.5,14.5],"range":[660,807],"nice":false,"zero":false},"axis":null},"x2":{"field":"to"},"y":{"datum":0,"type":"quantitative","scale":{"domain":[0,1],"range":[1174,1199.7],"nice":false},"axis":null},"color":{"field":"group","type":"nominal","legend":null,"scale":{"domain":["Kingston Bay, MA","Point Judith, RI","Watch Hill Cove, RI","Shark River Island, NJ","Great Bay, NJ","Sinepuxent Bay, MD","Pivers Island, NC","Georgia Continental Shelf","seawater Sv habitat","sediment Sv habitat","sediment GA shelf","gill"],"range":["#5209d8","#06e8e8","#0a8f80","#2de40e","#e8f030","#ecab06","#e5242b","#693500","#bdf4fa","#ff9a33","#693500","#6a22ff"]}}},
"layer":[
{"transform":[{"filter":"datum.track=='habitat'"}],"mark":"rect","encoding":{"y2":{"datum":0.78}}},
{"transform":[{"filter":"datum.track=='site'"}],"mark":"rect","encoding":{"y":{"datum":0.78,"type":"quantitative","axis":null},"y2":{"datum":1}}}
]}
],
"resolve":{"scale":{"x":"independent","y":"independent","color":"independent","fill":"independent","strokeWidth":"independent"},"axis":{"x":"independent","y":"independent"}}
}
